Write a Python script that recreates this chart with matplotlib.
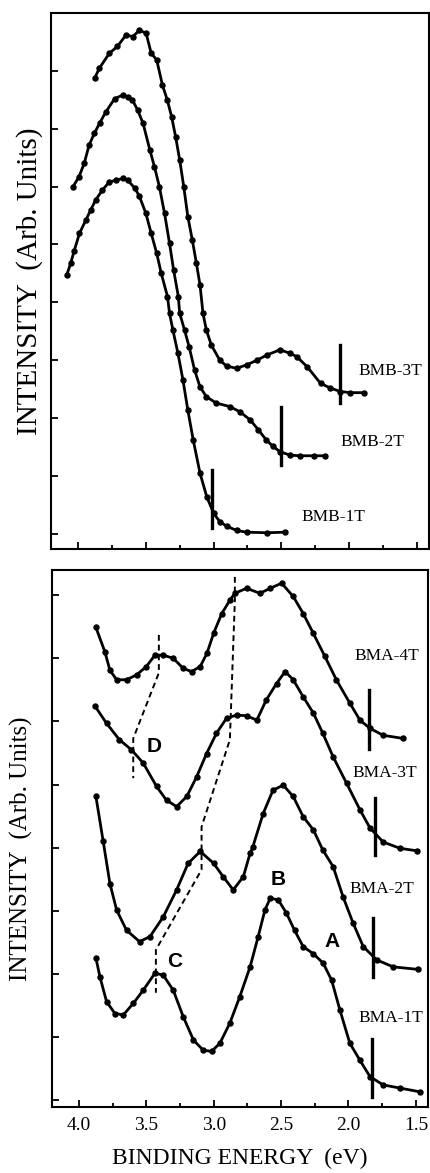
import matplotlib
matplotlib.use('Agg')
import matplotlib.pyplot as plt
from matplotlib.ticker import MultipleLocator

plt.rcParams['font.family'] = ['Liberation Serif', 'DejaVu Serif']

# ---- top panel: BMB series (binding energy eV, intensity in tick units) ----
bmb3t_x = [3.876, 3.844, 3.77, 3.71, 3.646, 3.597, 3.547, 3.498, 3.46, 3.42, 3.377, 3.342,
           3.31, 3.28, 3.25, 3.22, 3.19, 3.157, 3.127, 3.10, 3.078, 3.053, 3.016, 2.954,
           2.904, 2.83, 2.756, 2.68, 2.607, 2.51, 2.435, 2.385, 2.31, 2.21, 2.138, 2.064,
           1.99, 1.89]
bmb3t_y = [7.88, 8.04, 8.30, 8.42, 8.62, 8.59, 8.70, 8.65, 8.30, 8.19, 7.75, 7.50,
           7.21, 6.86, 6.46, 6.00, 5.48, 5.08, 4.68, 4.30, 3.81, 3.52, 3.26, 3.00,
           2.90, 2.86, 2.92, 3.00, 3.09, 3.18, 3.12, 3.06, 2.89, 2.60, 2.52, 2.46,
           2.44, 2.44]

bmb2t_x = [4.037, 3.993, 3.955, 3.918, 3.88, 3.84, 3.795, 3.73, 3.67, 3.634, 3.60, 3.56,
           3.52, 3.47, 3.436, 3.40, 3.362, 3.325, 3.295, 3.26, 3.25, 3.214, 3.18, 3.14,
           3.10, 3.053, 2.98, 2.88, 2.806, 2.73, 2.67, 2.61, 2.56, 2.51, 2.435, 2.36,
           2.262, 2.175]
bmb2t_y = [6.00, 6.17, 6.40, 6.72, 6.92, 7.10, 7.29, 7.52, 7.58, 7.55, 7.50, 7.32,
           7.09, 6.63, 6.34, 6.00, 5.54, 5.02, 4.56, 4.10, 3.81, 3.52, 3.23, 2.83,
           2.54, 2.37, 2.26, 2.20, 2.11, 1.97, 1.80, 1.62, 1.51, 1.42, 1.36, 1.35,
           1.35, 1.35]

bmb1t_x = [4.084, 4.054, 4.03, 3.99, 3.943, 3.906, 3.87, 3.82, 3.77, 3.72, 3.67, 3.634,
           3.58, 3.547, 3.50, 3.46, 3.42, 3.386, 3.34, 3.325, 3.30, 3.263, 3.226, 3.19,
           3.15, 3.10, 3.05, 3.00, 2.954, 2.90, 2.83, 2.756, 2.607, 2.47]
bmb1t_y = [4.47, 4.68, 4.88, 5.19, 5.42, 5.60, 5.77, 5.94, 6.08, 6.11, 6.14, 6.11,
           5.97, 5.83, 5.54, 5.19, 4.85, 4.50, 4.10, 3.81, 3.52, 3.12, 2.66, 2.14,
           1.62, 1.05, 0.64, 0.36, 0.21, 0.13, 0.06, 0.03, 0.02, 0.03]

# ---- bottom panel: BMA series ----
bma4t_x = [3.874, 3.807, 3.77, 3.72, 3.647, 3.57, 3.50, 3.436, 3.375, 3.30, 3.226, 3.164,
           3.10, 3.05, 3.00, 2.94, 2.88, 2.843, 2.756, 2.657, 2.58, 2.496, 2.41, 2.336,
           2.262, 2.175, 2.09, 1.99, 1.915, 1.84, 1.743, 1.594]
bma4t_y = [7.49, 7.10, 6.81, 6.66, 6.66, 6.74, 6.87, 7.05, 7.05, 7.00, 6.84, 6.79,
           6.87, 7.08, 7.40, 7.71, 7.92, 8.03, 8.11, 8.03, 8.11, 8.19, 7.98, 7.71,
           7.40, 7.03, 6.66, 6.29, 6.02, 5.89, 5.78, 5.73]

bma3t_x = [3.88, 3.795, 3.70, 3.61, 3.523, 3.424, 3.35, 3.275, 3.20, 3.127, 3.053, 2.98,
           2.905, 2.83, 2.756, 2.68, 2.61, 2.534, 2.47, 2.41, 2.336, 2.26, 2.19, 2.114,
           2.014, 1.915, 1.84, 1.743, 1.62, 1.495]
bma3t_y = [6.24, 5.97, 5.71, 5.55, 5.34, 4.97, 4.75, 4.65, 4.81, 5.12, 5.49, 5.81,
           6.05, 6.10, 6.09, 6.02, 6.34, 6.60, 6.79, 6.66, 6.39, 6.13, 5.81, 5.44,
           5.02, 4.60, 4.31, 4.09, 3.99, 3.95]

bma2t_x = [3.874, 3.82, 3.77, 3.72, 3.647, 3.55, 3.473, 3.375, 3.275, 3.19, 3.10, 3.00,
           2.93, 2.855, 2.78, 2.73, 2.71, 2.633, 2.56, 2.484, 2.41, 2.336, 2.26, 2.19,
           2.114, 2.04, 1.965, 1.89, 1.79, 1.668, 1.483]
bma2t_y = [4.81, 4.10, 3.43, 3.01, 2.69, 2.51, 2.59, 2.90, 3.33, 3.75, 3.94, 3.75,
           3.54, 3.33, 3.54, 3.91, 4.01, 4.54, 4.91, 4.99, 4.81, 4.49, 4.28, 3.96,
           3.70, 3.22, 2.80, 2.43, 2.22, 2.11, 2.07]

bma1t_x = [3.874, 3.844, 3.795, 3.733, 3.67, 3.597, 3.523, 3.436, 3.375, 3.30, 3.226, 3.15,
           3.078, 3.016, 2.954, 2.88, 2.806, 2.73, 2.67, 2.62, 2.58, 2.52, 2.46, 2.40,
           2.336, 2.262, 2.188, 2.125, 2.064, 1.99, 1.915, 1.84, 1.743, 1.62, 1.47]
bma1t_y = [2.25, 1.95, 1.56, 1.37, 1.35, 1.53, 1.74, 2.01, 1.98, 1.74, 1.32, 0.95,
           0.79, 0.77, 0.90, 1.22, 1.64, 2.11, 2.59, 3.01, 3.20, 3.17, 2.96, 2.69,
           2.43, 2.32, 2.17, 1.90, 1.43, 0.90, 0.63, 0.37, 0.24, 0.19, 0.13]

# edge markers: (energy, y_low, y_high)
bmb_marks = [(2.07, 2.27, 3.26), (2.50, 1.19, 2.20), (3.01, 0.10, 1.10)]
bma_marks = [(1.848, 5.57, 6.50), (1.804, 3.88, 4.78), (1.82, 1.95, 2.88), (1.824, 0.05, 0.96)]

bmb_labels = [('BMB-3T', 1.93, 2.82), ('BMB-2T', 2.064, 1.58), ('BMB-1T', 2.348, 0.30)]
bma_labels = [('BMA-4T', 1.953, 7.03), ('BMA-3T', 1.967, 5.19),
              ('BMA-2T', 1.99, 3.34), ('BMA-1T', 1.923, 1.30)]

# dashed guide lines in bottom panel
guide_main_x = [2.843, 2.843, 2.880, 3.090, 3.090, 3.429, 3.429]
guide_main_y = [8.29, 7.92, 5.71, 4.33, 3.65, 2.38, 1.70]
guide_d_x = [3.407, 3.407, 3.597, 3.597]
guide_d_y = [7.37, 6.77, 5.73, 5.10]

peak_letters = [('D', 3.444, 5.60), ('C', 3.288, 2.19), ('B', 2.52, 3.50), ('A', 2.121, 2.52)]


def style_axis(ax, ylim):
    ax.set_xlim(4.2, 1.41)
    ax.set_ylim(*ylim)
    ax.xaxis.set_major_locator(MultipleLocator(0.5))
    ax.xaxis.set_minor_locator(MultipleLocator(0.25))
    ax.yaxis.set_major_locator(MultipleLocator(1))
    ax.tick_params(axis='both', which='major', direction='in', length=5, width=1.3,
                   top=False, right=False, labelsize=14, pad=7)
    ax.tick_params(axis='x', which='minor', direction='in', length=3, width=1.3, top=False)
    ax.tick_params(axis='y', labelleft=False)
    for s in ax.spines.values():
        s.set_linewidth(1.5)


def draw_curve(ax, x, y):
    ax.plot(x, y, color='black', lw=2.0, marker='o', markersize=3.6, zorder=3)


fig = plt.figure(figsize=(4.31, 11.73), dpi=100)
ax1 = fig.add_axes([0.1183, 0.532, 0.877, 0.457])
ax2 = fig.add_axes([0.1206, 0.0563, 0.8724, 0.4578])

# top panel
for x, y in [(bmb3t_x, bmb3t_y), (bmb2t_x, bmb2t_y), (bmb1t_x, bmb1t_y)]:
    draw_curve(ax1, x, y)
for e, lo, hi in bmb_marks:
    ax1.plot([e, e], [lo, hi], color='black', lw=2.4)
for name, x, y in bmb_labels:
    ax1.text(x, y, name, fontsize=12.5, ha='left', va='center')
style_axis(ax1, (-0.26, 9.0))
ax1.tick_params(axis='x', labelbottom=False)
ax1.set_ylabel('INTENSITY  (Arb. Units)', fontsize=21, labelpad=6)

# bottom panel
for x, y in [(bma4t_x, bma4t_y), (bma3t_x, bma3t_y), (bma2t_x, bma2t_y), (bma1t_x, bma1t_y)]:
    draw_curve(ax2, x, y)
for e, lo, hi in bma_marks:
    ax2.plot([e, e], [lo, hi], color='black', lw=2.4)
for name, x, y in bma_labels:
    ax2.text(x, y, name, fontsize=12.5, ha='left', va='center')
ax2.plot(guide_main_x, guide_main_y, color='black', lw=1.4, ls=(0, (3, 2)))
ax2.plot(guide_d_x, guide_d_y, color='black', lw=1.4, ls=(0, (3, 2)))
for letter, x, y in peak_letters:
    ax2.text(x, y, letter, fontsize=15, fontweight='bold', ha='center', va='center',
             family=['Liberation Sans', 'DejaVu Sans'])
style_axis(ax2, (-0.11, 8.4))
ax2.xaxis.set_major_formatter(matplotlib.ticker.FormatStrFormatter('%.1f'))
ax2.set_ylabel('INTENSITY  (Arb. Units)', fontsize=18)
ax2.yaxis.set_label_coords(-0.05, 0.48)
ax2.set_xlabel('BINDING ENERGY  (eV)', fontsize=17, labelpad=10)

fig.savefig('out.png', dpi=100)
